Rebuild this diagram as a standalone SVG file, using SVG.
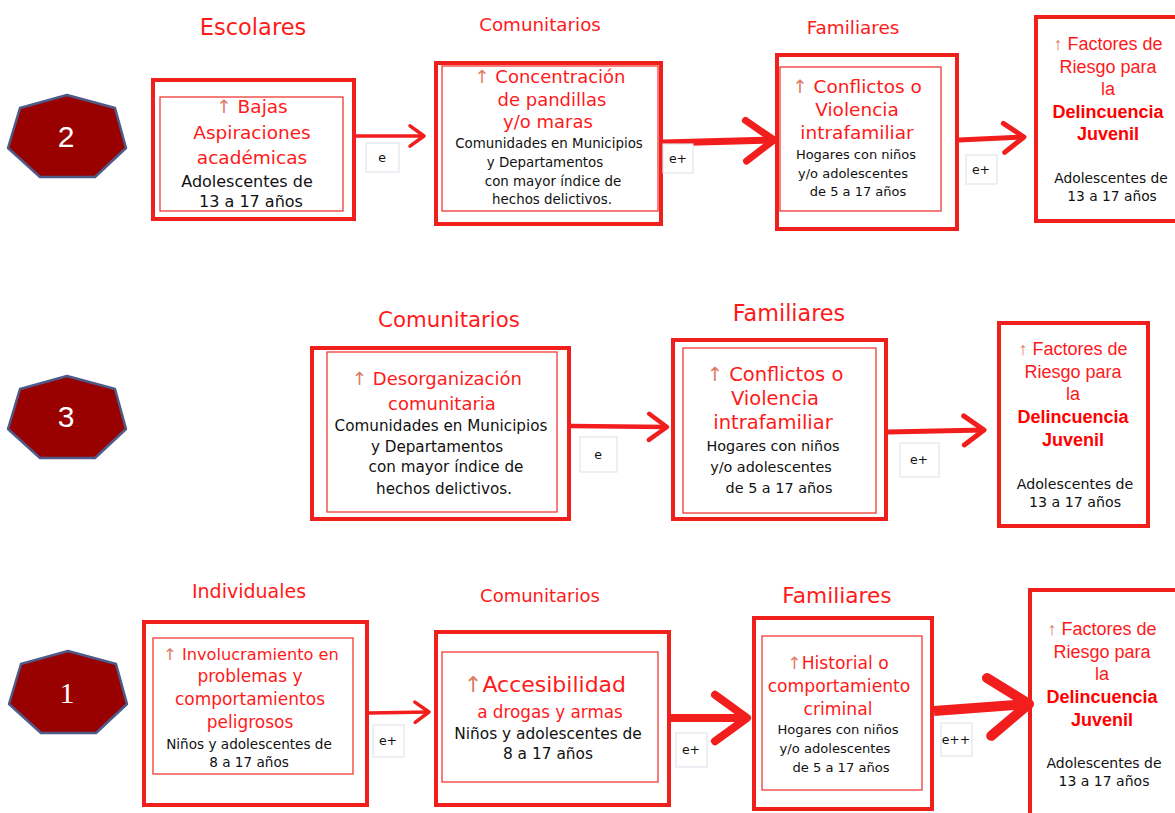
<svg xmlns="http://www.w3.org/2000/svg" width="1175" height="813" viewBox="0 0 1175 813">
<style>
.bg{fill:#fff}
.outer{fill:#fff;stroke:#ef1f1b;stroke-width:4}
.inner{fill:none;stroke:#f03a34;stroke-width:1.3}
.hept{fill:#990000;stroke:#4e5a88;stroke-width:2.5;stroke-linejoin:round}
.num{font-family:"Liberation Sans",sans-serif;font-size:30px;fill:#fff;text-anchor:middle}
.title{font-family:"DejaVu Sans",sans-serif;font-size:22px;fill:#ff1a1a;text-anchor:middle}
.rt{font-family:"DejaVu Sans",sans-serif;font-size:18px;fill:#ff1a1a;text-anchor:middle}
.bt{font-family:"DejaVu Sans",sans-serif;font-size:14px;fill:#111;text-anchor:middle}
.up{fill:#e07a66}
.ft{font-family:"Liberation Sans",sans-serif;font-size:18px;fill:#ff1a1a;text-anchor:middle}
.fb{font-family:"Liberation Sans",sans-serif;font-size:18px;fill:#ff0000;font-weight:bold;text-anchor:middle}
.fs{font-family:"DejaVu Sans",sans-serif;font-size:14px;fill:#111;text-anchor:middle}
.lab{fill:#fff;stroke:#dfe5ec;stroke-width:1.2}
.lt{font-family:"DejaVu Sans",sans-serif;font-size:12.5px;fill:#111;text-anchor:middle}
.conn{fill:none;stroke:#f21d1d}
</style>
<defs>
<marker id="ah" viewBox="0 0 7 7" markerUnits="strokeWidth" markerWidth="7" markerHeight="7" refX="5.6" refY="3.5" orient="auto" overflow="visible">
<path d="M1.6,0.6 L5.6,3.5 L1.6,6.4" fill="none" stroke="#f21d1d" stroke-width="1" stroke-linecap="round" stroke-linejoin="round"/>
</marker>
</defs>
<rect class="bg" x="0" y="0" width="1175" height="813"/>

<!-- Row 2 (top) -->
<g id="hept2"><polygon class="hept" points="67,95 115,108 126,148 95,177 40,177 8,148 20,108"/><text class="num" x="66" y="147">2</text></g>

<g id="escolares">
<text class="title" x="253" y="35" style="font-size:22.5px">Escolares</text>
<rect class="outer" x="153" y="80" width="201" height="139"/>
<rect class="inner" x="160" y="97" width="183" height="114"/>
<text class="rt" x="252" y="113" style="font-size:18.5px"><tspan class="up">↑</tspan> Bajas</text>
<text class="rt" x="252" y="139" style="font-size:18.5px">Aspiraciones</text>
<text class="rt" x="252" y="164" style="font-size:18.5px">académicas</text>
<text class="bt" x="247" y="187" style="font-size:16px">Adolescentes de</text>
<text class="bt" x="251" y="207" style="font-size:16px">13 a 17 años</text>
</g>

<g id="comunitarios2">
<text class="title" x="540" y="31" style="font-size:18.3px">Comunitarios</text>
<rect class="outer" x="436" y="63" width="225" height="161"/>
<rect class="inner" x="442" y="66" width="216" height="145"/>
<text class="rt" x="550" y="83"><tspan class="up">↑</tspan> Concentración</text>
<text class="rt" x="552" y="106">de pandillas</text>
<text class="rt" x="548" y="128">y/o  maras</text>
<text class="bt" x="549" y="148" style="font-size:13.4px">Comunidades  en Municipios</text>
<text class="bt" x="545" y="167" style="font-size:13.4px">y Departamentos</text>
<text class="bt" x="553" y="186" style="font-size:13.4px">con mayor índice de</text>
<text class="bt" x="552" y="204" style="font-size:13.4px">hechos delictivos.</text>
</g>

<g id="familiares2">
<text class="title" x="853" y="34" style="font-size:18.4px">Familiares</text>
<rect class="outer" x="777" y="55" width="180" height="174"/>
<rect class="inner" x="780" y="67" width="161" height="144"/>
<text class="rt" x="857" y="93" style="font-size:18.5px"><tspan class="up">↑</tspan> Conflictos o</text>
<text class="rt" x="857" y="116" style="font-size:18.5px">Violencia</text>
<text class="rt" x="857" y="139" style="font-size:18.5px">intrafamiliar</text>
<text class="bt" x="856" y="159" style="font-size:13px">Hogares con niños</text>
<text class="bt" x="853" y="178" style="font-size:13px">y/o adolescentes</text>
<text class="bt" x="858" y="196" style="font-size:13px">de 5 a 17 años</text>
</g>

<g id="factores2">
<rect class="outer" x="1036" y="17" width="145" height="204"/>
<text class="ft" x="1108" y="50"><tspan class="up">↑</tspan> Factores de</text>
<text class="ft" x="1108" y="73">Riesgo para</text>
<text class="ft" x="1108" y="95">la</text>
<text class="fb" x="1108" y="118">Delincuencia</text>
<text class="fb" x="1108" y="140">Juvenil</text>
<text class="fs" x="1111" y="183" style="font-size:13.8px">Adolescentes de</text>
<text class="fs" x="1112" y="201" style="font-size:13.8px">13 a 17 años</text>
</g>

<!-- Row 3 (middle) -->
<g id="hept3"><polygon class="hept" points="67,376 115,389 126,429 95,458 40,458 8,429 20,389"/><text class="num" x="66" y="427">3</text></g>

<g id="comunitarios3">
<text class="title" x="449" y="327" style="font-size:21.3px">Comunitarios</text>
<rect class="outer" x="312" y="348" width="257" height="171"/>
<rect class="inner" x="327" y="352" width="230" height="160"/>
<text class="rt" x="437" y="385"><tspan class="up">↑</tspan> Desorganización</text>
<text class="rt" x="442" y="410">comunitaria</text>
<text class="bt" x="441" y="431" style="font-size:15.2px">Comunidades en Municipios</text>
<text class="bt" x="437" y="452" style="font-size:15.2px">y Departamentos</text>
<text class="bt" x="446" y="472" style="font-size:15.2px">con mayor índice de</text>
<text class="bt" x="444" y="494" style="font-size:15.2px">hechos delictivos.</text>
</g>

<g id="familiares3">
<text class="title" x="789" y="321" style="font-size:22.3px">Familiares</text>
<rect class="outer" x="673" y="340" width="213" height="179"/>
<rect class="inner" x="683" y="348" width="193" height="165"/>
<text class="rt" x="775" y="381" style="font-size:19.5px"><tspan class="up">↑</tspan> Conflictos o</text>
<text class="rt" x="775" y="405" style="font-size:19.5px">Violencia</text>
<text class="rt" x="773" y="429" style="font-size:19.5px">intrafamiliar</text>
<text class="bt" x="773" y="451" style="font-size:14.4px">Hogares con niños</text>
<text class="bt" x="771" y="472" style="font-size:14.4px">y/o adolescentes</text>
<text class="bt" x="779" y="493" style="font-size:14.4px">de 5 a 17 años</text>
</g>

<g id="factores3">
<rect class="outer" x="999" y="323" width="149" height="203"/>
<text class="ft" x="1073" y="355"><tspan class="up">↑</tspan> Factores de</text>
<text class="ft" x="1073" y="378">Riesgo para</text>
<text class="ft" x="1073" y="400">la</text>
<text class="fb" x="1073" y="423">Delincuencia</text>
<text class="fb" x="1073" y="446">Juvenil</text>
<text class="fs" x="1075" y="489" style="font-size:14.2px">Adolescentes de</text>
<text class="fs" x="1075" y="507" style="font-size:14.2px">13 a 17 años</text>
</g>

<!-- Row 1 (bottom) -->
<g id="hept1"><polygon class="hept" points="68,651 116,664 127,704 96,733 41,733 9,704 21,664"/><text class="num" x="67" y="703" style="font-family:'Liberation Serif',serif">1</text></g>

<g id="individuales">
<text class="title" x="249" y="598" style="font-size:19px">Individuales</text>
<rect class="outer" x="144" y="622" width="223" height="183"/>
<rect class="inner" x="153" y="638" width="200" height="136"/>
<text class="rt" x="251" y="660" style="font-size:16.2px"><tspan class="up">↑</tspan> Involucramiento  en</text>
<text class="rt" x="250" y="682" style="font-size:17px">problemas  y</text>
<text class="rt" x="250" y="705" style="font-size:17px">comportamientos</text>
<text class="rt" x="250" y="728" style="font-size:17px">peligrosos</text>
<text class="bt" x="249" y="749" style="font-size:13.6px">Niños y adolescentes  de</text>
<text class="bt" x="249" y="767" style="font-size:13.6px">8 a 17 años</text>
</g>

<g id="comunitarios1">
<text class="title" x="540" y="602" style="font-size:18px">Comunitarios</text>
<rect class="outer" x="436" y="632" width="233" height="173"/>
<rect class="inner" x="442" y="652" width="216" height="130"/>
<text class="rt" x="545" y="692" style="font-size:22px"><tspan class="up">↑</tspan>Accesibilidad</text>
<text class="rt" x="550" y="718" style="font-size:16.8px">a drogas y armas</text>
<text class="bt" x="548" y="739" style="font-size:15.4px">Niños y adolescentes de</text>
<text class="bt" x="548" y="759" style="font-size:15.4px">8 a 17 años</text>
</g>

<g id="familiares1">
<text class="title" x="837" y="603" style="font-size:21.7px">Familiares</text>
<rect class="outer" x="754" y="618" width="178" height="191"/>
<rect class="inner" x="762" y="636" width="160" height="154"/>
<text class="rt" x="838" y="669" style="font-size:17.2px"><tspan class="up">↑</tspan>Historial o</text>
<text class="rt" x="839" y="692" style="font-size:17.2px">comportamiento</text>
<text class="rt" x="838" y="715" style="font-size:17.2px">criminal</text>
<text class="bt" x="838" y="734" style="font-size:13.1px">Hogares con niños</text>
<text class="bt" x="835" y="753" style="font-size:13.1px">y/o adolescentes</text>
<text class="bt" x="841" y="772" style="font-size:13.1px">de 5 a 17 años</text>
</g>

<g id="factores1">
<rect class="outer" x="1030" y="590" width="152" height="230"/>
<text class="ft" x="1102" y="635"><tspan class="up">↑</tspan> Factores de</text>
<text class="ft" x="1102" y="658">Riesgo para</text>
<text class="ft" x="1102" y="680">la</text>
<text class="fb" x="1102" y="703">Delincuencia</text>
<text class="fb" x="1102" y="726">Juvenil</text>
<text class="fs" x="1104" y="768">Adolescentes de</text>
<text class="fs" x="1104" y="786">13 a 17 años</text>
</g>

<!-- Connectors -->
<g id="connectors">
<path class="conn" d="M356,136 L424,136" stroke-width="3.5" marker-end="url(#ah)"/>
<path class="conn" d="M663,143 L774,140" stroke-width="7" marker-end="url(#ah)"/>
<path class="conn" d="M959,140 L1024,137" stroke-width="5" marker-end="url(#ah)"/>
<path class="conn" d="M571,426 L667,427" stroke-width="4.5" marker-end="url(#ah)"/>
<path class="conn" d="M888,432 L984,430" stroke-width="5" marker-end="url(#ah)"/>
<path class="conn" d="M369,713 L429,712" stroke-width="3.5" marker-end="url(#ah)"/>
<path class="conn" d="M671,718 L747,718" stroke-width="8" marker-end="url(#ah)"/>
<path class="conn" d="M934,711 L1029,704" stroke-width="10" marker-end="url(#ah)"/>
<rect class="lab" x="366" y="143" width="33" height="29"/><text class="lt" x="382" y="162">e</text>
<rect class="lab" x="663" y="144" width="30" height="29"/><text class="lt" x="678" y="163">e+</text>
<rect class="lab" x="966" y="155" width="31" height="29"/><text class="lt" x="981" y="174">e+</text>
<rect class="lab" x="580" y="437" width="37" height="35"/><text class="lt" x="598" y="459">e</text>
<rect class="lab" x="900" y="443" width="39" height="34"/><text class="lt" x="919" y="464">e+</text>
<rect class="lab" x="373" y="725" width="31" height="32"/><text class="lt" x="388" y="745">e+</text>
<rect class="lab" x="676" y="733" width="31" height="34"/><text class="lt" x="691" y="754">e+</text>
<rect class="lab" x="941" y="723" width="31" height="33"/><text class="lt" x="956" y="744">e++</text>
</g>
</svg>
